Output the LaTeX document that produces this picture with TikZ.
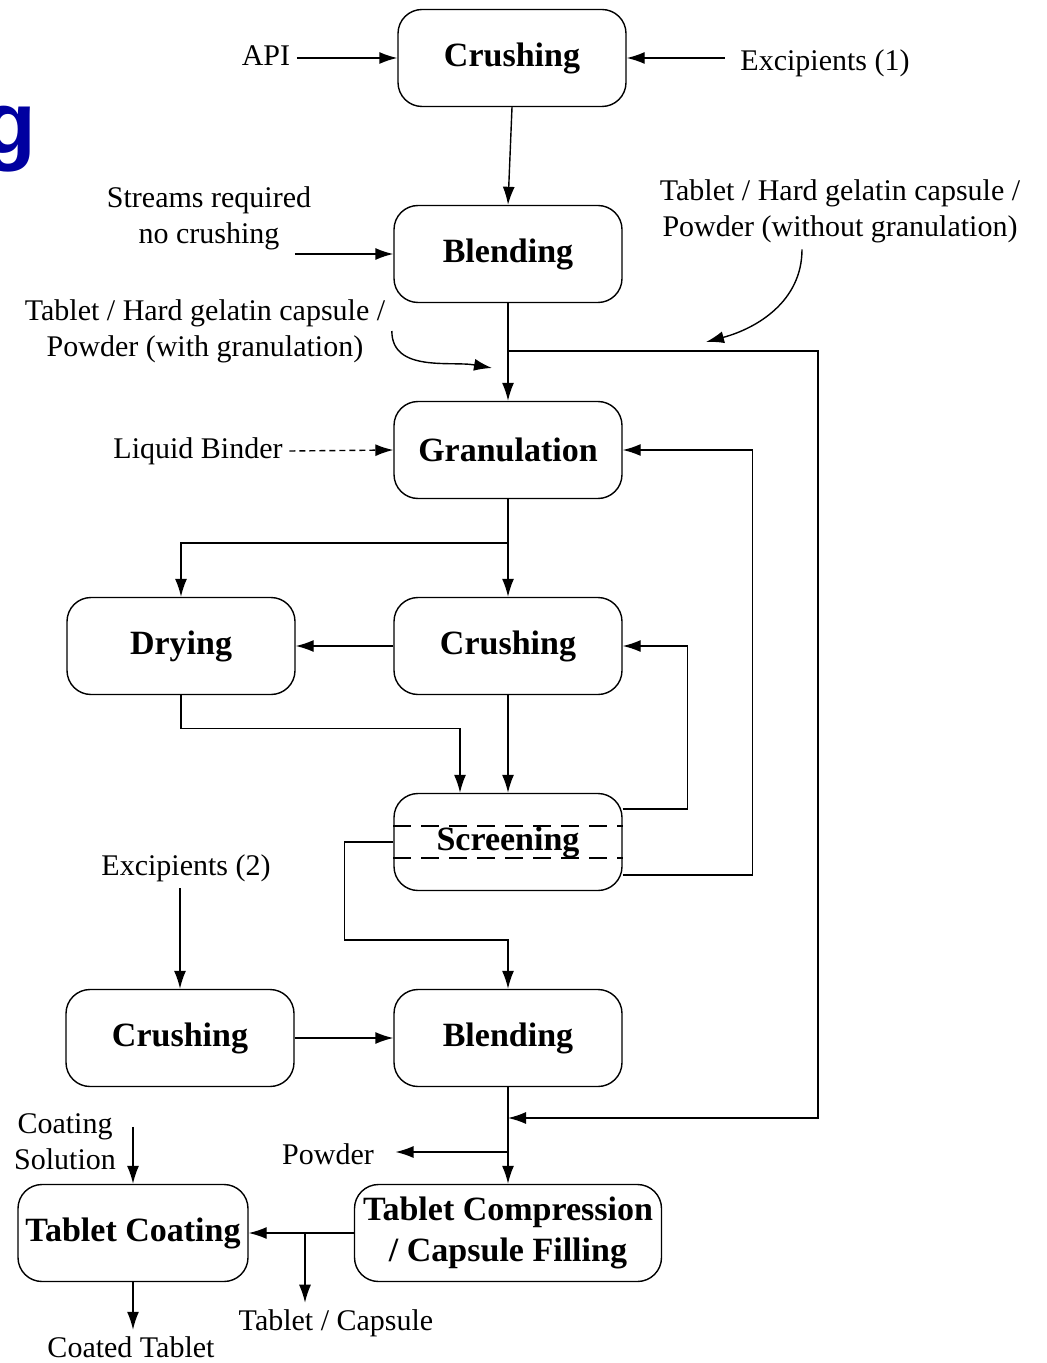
\documentclass[tikz,border=0pt]{standalone}
\usepackage{fontspec}
\setmainfont{Liberation Serif}
\newfontfamily\headfont{Liberation Sans}
\usetikzlibrary{arrows.meta}
\definecolor{headblue}{RGB}{0,0,160}
\tikzset{
  proc/.style={draw, rounded corners=12pt, minimum width=114pt, minimum height=48.5pt,
    align=center, inner sep=2pt, font=\fontsize{17}{20.4}\selectfont\bfseries},
  lbl/.style={align=center, inner sep=3pt, font=\fontsize{15}{18}\selectfont},
}
\begin{document}
\begin{tikzpicture}[x=0.5pt, y=-0.5pt, line width=0.7pt]
      \useasboundingbox (0,0) rectangle (1046,1363);
      \node[anchor=base east, inner sep=0pt, text=headblue,
        font=\headfont\bfseries\fontsize{44}{50}\selectfont] (title) at (37,154) {g};
      \draw
        (512,58) node[proc] (crush1){Crushing}
        (508,254) node[proc] (blend1){Blending}
        (508,450) node[proc] (gran){Granulation}
        (181,646) node[proc] (dry){Drying}
        (508,646) node[proc] (crush2){Crushing}
        (508,842) node[proc] (screen){Screening}
        (180,1038) node[proc] (crush3){Crushing}
        (508,1038) node[proc] (blend2){Blending}
        (508,1233) node[proc, minimum width=153.5pt] (compress){Tablet Compression\\/ Capsule Filling}
        (133,1233) node[proc, minimum width=115pt] (coat){Tablet Coating};
      \draw
        (266,56) node[lbl] (api){API}
        (825,63) node[lbl] (exc1){Excipients (1)}
        (209,218) node[lbl] (nocrush){Streams required\\no crushing}
        (205,331) node[lbl] (withgran){Tablet / Hard gelatin capsule /\\Powder (with granulation)}
        (840,211) node[lbl] (nogran){Tablet / Hard gelatin capsule /\\Powder (without granulation)}
        (198,451) node[lbl] (binder){Liquid Binder}
        (186,868) node[lbl] (exc2){Excipients (2)}
        (65,1142) node[lbl] (coatsol){Coating\\Solution}
        (328,1154) node[lbl] (powder){Powder}
        (336,1323) node[lbl] (tabcap){Tablet / Capsule}
        (131,1347) node[lbl] (coated){Coated Tablet};
      \coordinate (fork1) at (508,351);
      \coordinate (fork2) at (508,543);
      \coordinate (fork3) at (508,1118);
      \coordinate (fork4) at (508,1152);
      \coordinate (fork5) at (305,1233);
      \coordinate (wgend) at (492,368);
      \coordinate (ngend) at (706,342);
      \draw[dash pattern=on 9pt off 5pt] ([yshift=8pt]screen.west) -- ([yshift=8pt]screen.east);
      \draw[dash pattern=on 9pt off 5pt] ([yshift=-8pt]screen.west) -- ([yshift=-8pt]screen.east);
      \begin{scope}[-{Latex[length=9pt,width=6pt]}]
        \draw (api.east |- crush1.west) -- (crush1.west);
        \draw ([xshift=-4.5pt]exc1.west |- crush1.east) -- (crush1.east);
        \draw (crush1.south) -- (blend1.north);
        \draw ([xshift=-11.5pt]nocrush.east |- blend1.west) -- (blend1.west);
        \draw (blend1.south) -- (gran.north);
        \draw (withgran.east) to[out=-90, in=170] (wgend);
        \draw ([xshift=-19pt]nogran.south) to[out=-90, in=15] (ngend);
        \draw (fork1) -- ++(310,0) |- (fork3);
        \draw[dash pattern=on 3pt off 2pt] (binder.east) -- (gran.west);
        \draw (gran.south) -- (crush2.north);
        \draw (fork2) -| (dry.north);
        \draw (crush2.west) -- (dry.east);
        \draw (crush2.south) -- (screen.north);
        \draw (dry.south) -- ++(0,33) -| ([xshift=-24pt]screen.north);
        \draw ([yshift=16.5pt]screen.east) -- ++(65,0) |- (crush2.east);
        \draw ([yshift=-16.5pt]screen.east) -- ++(130,0) |- (gran.east);
        \draw (screen.west) -- ++(-49,0) -- ++(0,98) -| (blend2.north);
        \draw (exc2.south -| crush3.north) -- (crush3.north);
        \draw (crush3.east) -- (blend2.west);
        \draw (blend2.south) -- (compress.north);
        \draw (fork4) -- ([xshift=7.5pt]powder.east |- fork4);
        \draw ([yshift=28.5pt]coat.north) -- (coat.north);
        \draw (compress.west) -- (coat.east);
        \draw (fork5) -- (fork5 |- tabcap.north);
        \draw (coat.south) -- (coat.south |- coated.north);
      \end{scope}
    \end{tikzpicture}
\end{document}
